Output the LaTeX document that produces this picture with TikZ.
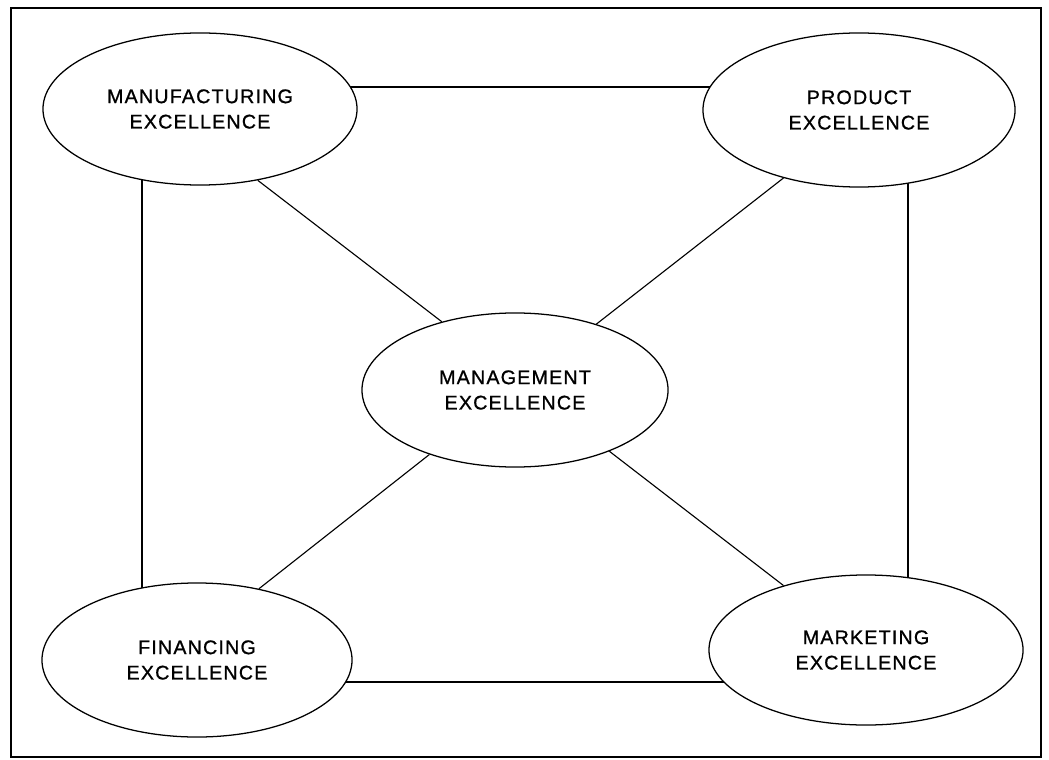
\documentclass[tikz,border=0pt]{standalone}
\usepackage{fontspec}
\setmainfont{Liberation Sans}[LetterSpace=6,FakeBold=1]
\usepackage{tikz}
\usetikzlibrary{shapes.geometric}

\begin{document}
\begin{tikzpicture}[x=0.025cm,y=-0.025cm,
		excel/.style={ellipse,draw,fill=white,line width=0.9pt,inner sep=0pt,align=center,
			font=\fontsize{14}{18}\selectfont},
		link/.style={line width=0.8pt},
		frame/.style={line width=1.4pt}]
				% Fix the page size
				\useasboundingbox (0,0) rectangle (1049,760);
				
				% Draw the outer frame
				\draw[line width=1.2pt] (11,8) rectangle (1041,757);
				
				% Draw the inner square behind the ellipses
				\coordinate (tl) at (142,87);
				\coordinate (br) at (908,682);
				\draw[frame] (tl) rectangle (br);
				
				% Place the five ellipses
				\node[excel,minimum width=7.85cm,minimum height=3.8cm] (manuf) at (200,109) {MANUFACTURING\\EXCELLENCE};
				\node[excel,minimum width=7.8cm,minimum height=3.85cm] (prod) at (859,110) {PRODUCT\\EXCELLENCE};
				\node[excel,minimum width=7.65cm,minimum height=3.85cm] (mgmt) at (515,390) {MANAGEMENT\\EXCELLENCE};
				\node[excel,minimum width=7.75cm,minimum height=3.85cm] (fin) at (197,660) {FINANCING\\EXCELLENCE};
				\node[excel,minimum width=7.85cm,minimum height=3.75cm] (mkt) at (866,650) {MARKETING\\EXCELLENCE};
				
				% Draw the lines to the centre
				\draw[link] (manuf.-51) -- (mgmt.137);
				\draw[link] (prod.-138) -- (mgmt.39);
				\draw[link] (fin.49) -- (mgmt.-143);
				\draw[link] (mkt.142) -- (mgmt.-33);
			\end{tikzpicture}
\end{document}
